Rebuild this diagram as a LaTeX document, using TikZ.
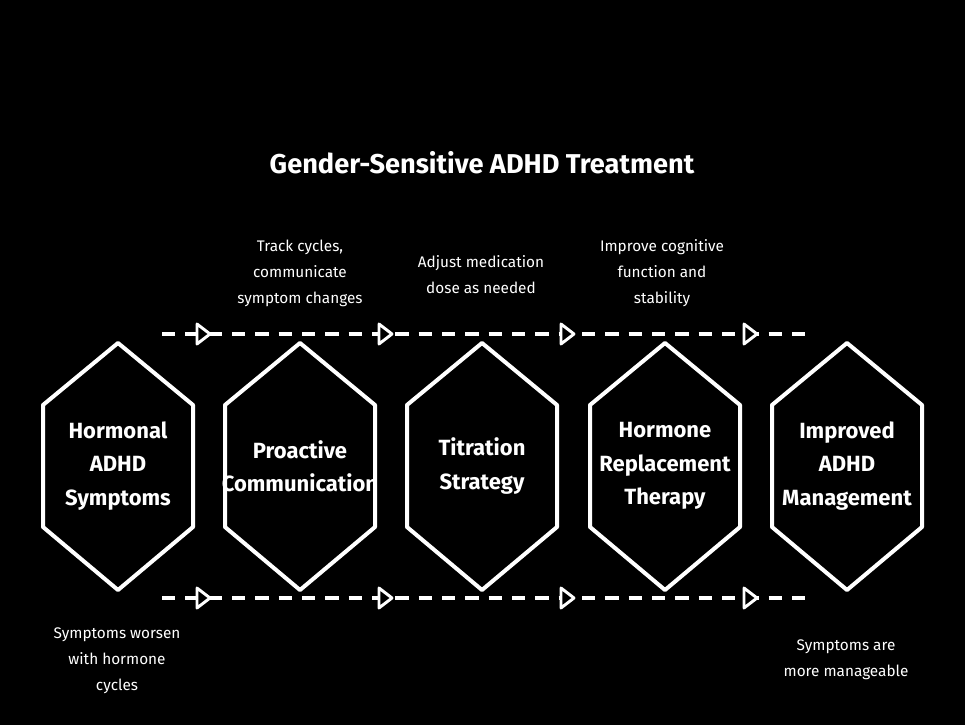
\documentclass[tikz,border=0pt]{standalone}
\usepackage{fontspec}
\setmainfont{Fira Sans}
\begin{document}
\begin{tikzpicture}[x=0.75pt,y=-0.75pt,
  hexa/.style={draw=white,line width=3pt,line join=round,fill=black},
  hextext/.style={text=white,align=center,font=\bfseries\fontsize{16.5}{25}\selectfont},
  lbl/.style={text=white,align=center,font=\fontsize{11.5}{19.5}\selectfont},
  ttl/.style={text=white,font=\bfseries\fontsize{20.4}{24}\selectfont},
  flow/.style={draw=white,line width=3pt,dash pattern=on 10pt off 7.5pt},
  tri/.style={draw=white,line width=2.2pt,fill=black,line join=round}]
\fill[black] (0,0) rectangle (965,725);
\useasboundingbox (0,0) rectangle (965,725);
\node[ttl] (title) at (482,163) {Gender-Sensitive ADHD Treatment};
% flow lines
\coordinate (ts) at (162,334); \coordinate (te) at (806,334);
\coordinate (bs) at (162,598); \coordinate (be) at (806,598);
\draw[flow] (ts) -- (te);
\draw[flow] (bs) -- (be);
\foreach \x in {203,385,567,750}{
  \draw[tri] (\x-6,324) -- (\x+7,334) -- (\x-6,344) -- cycle;
  \draw[tri] (\x-6,588) -- (\x+7,598) -- (\x-6,608) -- cycle;
}
% hexagons
\foreach \c/\n in {118/h1,300/h2,482/h3,665/h4,847/h5}{
  \draw[hexa] (\c,343) -- (\c+75,405) -- (\c+75,527) -- (\c,590) -- (\c-75,527) -- (\c-75,405) -- cycle;
  \coordinate (\n) at (\c,466);
}
\node[hextext] (t1) at (h1) {Hormonal\\ADHD\\Symptoms};
\node[hextext] (t2) at (h2) {Proactive\\Communication};
\node[hextext] (t3) at (h3) {Titration\\Strategy};
\node[hextext] (t4) at (h4) {Hormone\\Replacement\\Therapy};
\node[hextext] (t5) at (h5) {Improved\\ADHD\\Management};
% labels
\node[lbl] (l2) at (300,273) {Track cycles,\\communicate\\symptom changes};
\node[lbl] (l3) at (481,275) {Adjust medication\\dose as needed};
\node[lbl] (l4) at (662,273) {Improve cognitive\\function and\\stability};
\node[lbl] (l1) at (117,661) {Symptoms worsen\\with hormone\\cycles};
\node[lbl] (l5) at (846,660) {Symptoms are\\more manageable};
\end{tikzpicture}
\end{document}
